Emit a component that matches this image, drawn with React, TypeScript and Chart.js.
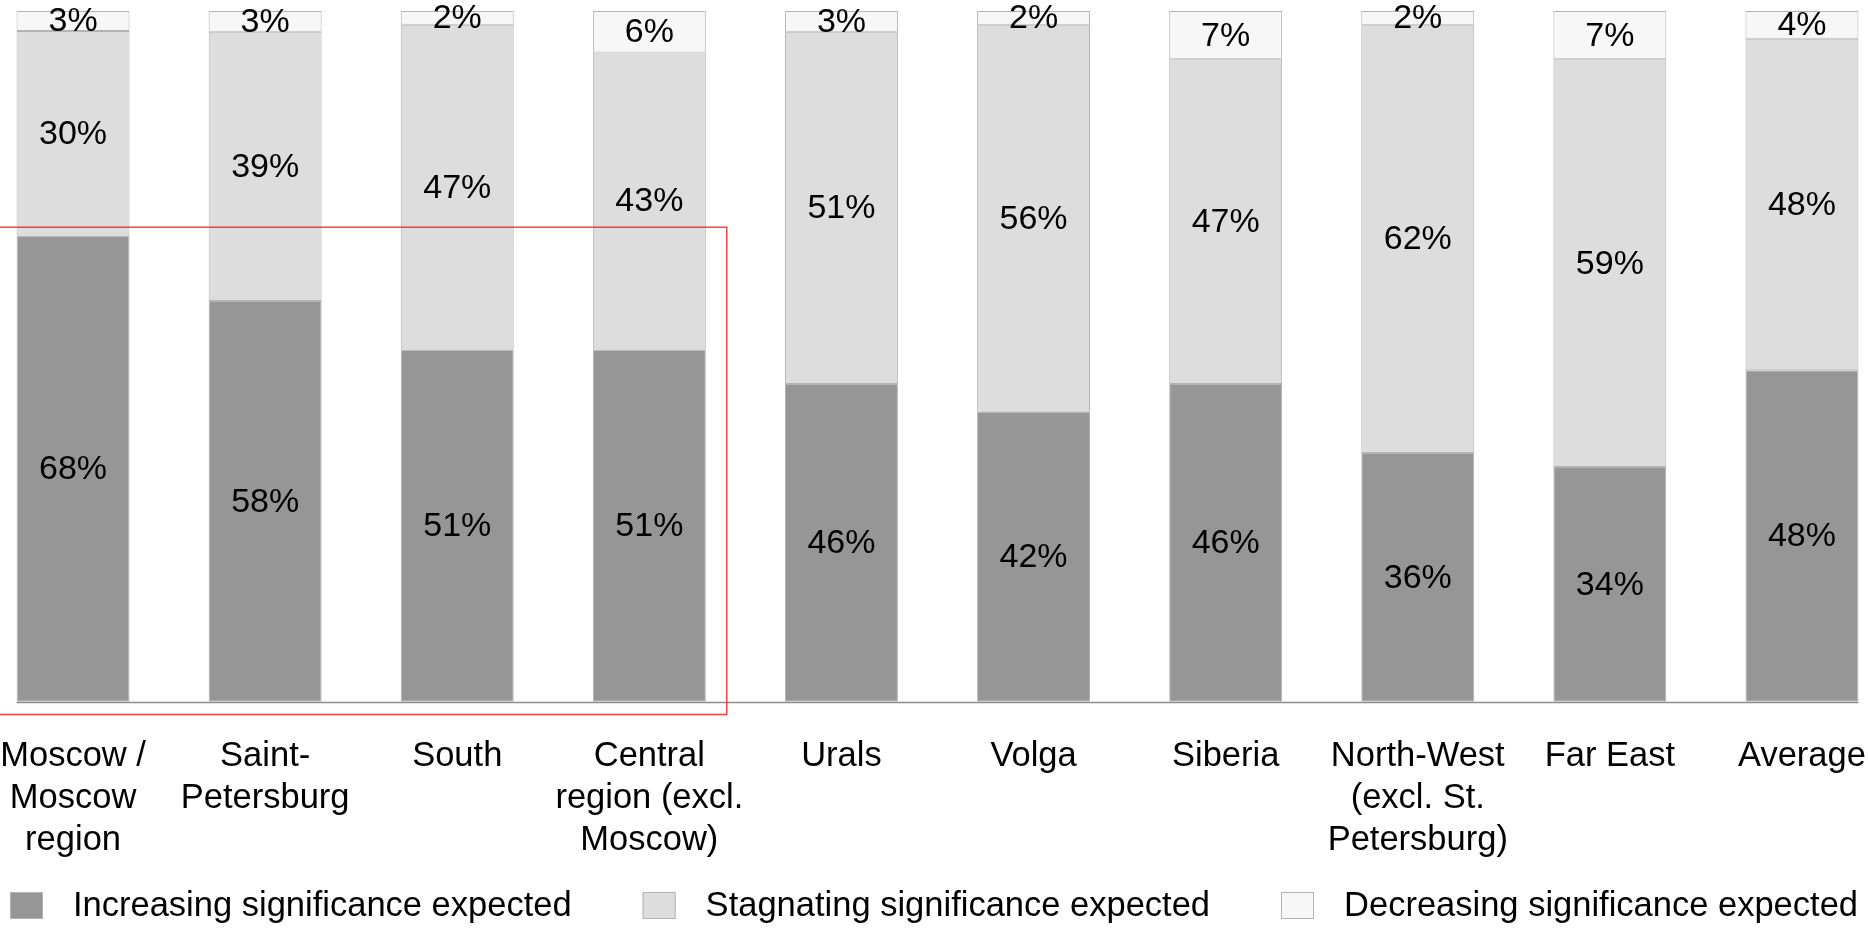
import React, { useEffect, useRef } from "react";
import { Chart, registerables } from "chart.js";

Chart.register(...registerables);

// ---------- data ----------
const categories: (string | string[])[] = [
  ["Moscow /", "Moscow", "region"],
  ["Saint-", "Petersburg"],
  "South",
  ["Central", "region (excl.", "Moscow)"],
  "Urals",
  "Volga",
  "Siberia",
  ["North-West", "(excl. St.", "Petersburg)"],
  "Far East",
  "Average",
];
const increasing = [67.5, 58, 51, 51, 46, 42, 46, 36, 34, 48];
const stagnating = [29.6, 39, 47, 43, 51, 56, 47, 62, 59, 48];
const decreasing = [2.9, 3, 2, 6, 3, 2, 7, 2, 7, 4];
const seriesLabels = [
  "Increasing significance expected",
  "Stagnating significance expected",
  "Decreasing significance expected",
];
const seriesColors = ["#969696", "#dddddd", "#f7f7f7"];
const highlightFirst = 0;
const highlightLast = 3;

// ---------- layout constants ----------
const VIEW_W = 1868;
const VIEW_H = 928;
const CANVAS_LEFT = -23;
const CANVAS_W = 1921;
const FONT = '"Liberation Sans", Arial, sans-serif';

const valueLabelPlugin = {
  id: "valueLabels",
  afterDatasetsDraw(chart: any) {
    const ctx = chart.ctx;
    const yScale = chart.scales.y;
    // baseline
    const first = chart.getDatasetMeta(0).data[0];
    const last = chart.getDatasetMeta(0).data[categories.length - 1];
    const y0 = Math.round(yScale.getPixelForValue(0)) + 0.5;
    ctx.save();
    ctx.strokeStyle = "#8c8c8c";
    ctx.lineWidth = 1.5;
    ctx.beginPath();
    ctx.moveTo(first.x - first.width / 2, y0);
    ctx.lineTo(last.x + last.width / 2, y0);
    ctx.stroke();

    ctx.font = `34px ${FONT}`;
    ctx.fillStyle = "#000";
    ctx.textAlign = "center";
    ctx.textBaseline = "middle";
    chart.data.datasets.forEach((ds: any, i: number) => {
      const meta = chart.getDatasetMeta(i);
      meta.data.forEach((bar: any, j: number) => {
        const v = ds.data[j];
        const cy = (bar.y + bar.base) / 2;
        ctx.fillText(`${Math.round(v)}%`, bar.x, cy + 1);
      });
    });
    ctx.restore();
  },
  afterDraw(chart: any) {
    const ctx = chart.ctx;
    const xScale = chart.scales.x;
    const yScale = chart.scales.y;
    const catW = xScale.getPixelForValue(1) - xScale.getPixelForValue(0);
    // highlight box around the first categories
    const left = xScale.getPixelForValue(highlightFirst) - 0.6 * catW;
    const right = xScale.getPixelForValue(highlightLast) + 0.403 * catW;
    const top = yScale.getPixelForValue(68.7);
    const bottom = yScale.getPixelForValue(-1.84);
    ctx.save();
    ctx.strokeStyle = "rgba(255,30,30,0.85)";
    ctx.lineWidth = 1.5;
    ctx.strokeRect(left, top, right - left, bottom - top);
    ctx.restore();

    // legend
    ctx.save();
    ctx.font = `34.5px ${FONT}`;
    const boxW = 33;
    const boxH = 27;
    const gapBox = 30;
    const gapItem = 71;
    const widths = chart.data.datasets.map(
      (ds: any) => boxW + gapBox + ctx.measureText(ds.label).width
    );
    const total = widths.reduce((a: number, b: number) => a + b, 0) + gapItem * (widths.length - 1);
    let x = VIEW_W / 2 - CANVAS_LEFT - total / 2;
    const cy = 905.5;
    ctx.textBaseline = "middle";
    ctx.textAlign = "left";
    chart.data.datasets.forEach((ds: any, i: number) => {
      ctx.fillStyle = ds.backgroundColor;
      ctx.fillRect(x, cy - boxH / 2, boxW, boxH);
      ctx.strokeStyle = "#b4b4b4";
      ctx.lineWidth = 1;
      ctx.strokeRect(x + 0.5, cy - boxH / 2 + 0.5, boxW - 1, boxH - 1);
      ctx.fillStyle = "#000";
      ctx.fillText(ds.label, x + boxW + gapBox, cy + 1);
      x += widths[i] + gapItem;
    });
    ctx.restore();
  },
};

function App() {
  const ref = useRef<HTMLCanvasElement | null>(null);
  useEffect(() => {
    if (!ref.current) return;
    const series = [increasing, stagnating, decreasing];
    const chart = new Chart(ref.current, {
      type: "bar",
      data: {
        labels: categories,
        datasets: series.map((d, i) => ({
          label: seriesLabels[i],
          data: d,
          backgroundColor: seriesColors[i],
          borderColor: "#b3b3b3",
          borderWidth: 1,
          borderSkipped: false,
          categoryPercentage: 1,
          barPercentage: 0.588,
        })),
      },
      options: {
        animation: false,
        responsive: false,
        devicePixelRatio: 1,
        layout: { padding: { top: 11, bottom: 64, left: 0, right: 0 } },
        plugins: {
          legend: { display: false },
          tooltip: { enabled: false },
        },
        scales: {
          x: {
            stacked: true,
            grid: {
              display: true,
              drawOnChartArea: false,
              drawTicks: true,
              tickLength: 31,
              tickColor: "rgba(0,0,0,0)",
              color: "rgba(0,0,0,0)",
            },
            border: { display: false },
            ticks: {
              color: "#000",
              font: { family: FONT, size: 34.5, lineHeight: 1.21 },
              padding: 3,
              maxRotation: 0,
              minRotation: 0,
              autoSkip: false,
            },
          },
          y: {
            stacked: true,
            display: false,
            min: 0,
            max: 100,
          },
        },
      },
      plugins: [valueLabelPlugin],
    });
    return () => chart.destroy();
  }, []);

  return (
    <div
      style={{
        position: "fixed",
        left: 0,
        top: 0,
        width: VIEW_W,
        height: VIEW_H,
        overflow: "hidden",
        background: "#fff",
      }}
    >
      <canvas
        ref={ref}
        width={CANVAS_W}
        height={VIEW_H}
        style={{ position: "absolute", left: CANVAS_LEFT, top: 0, width: CANVAS_W, height: VIEW_H }}
      />
    </div>
  );
}

export default App;
